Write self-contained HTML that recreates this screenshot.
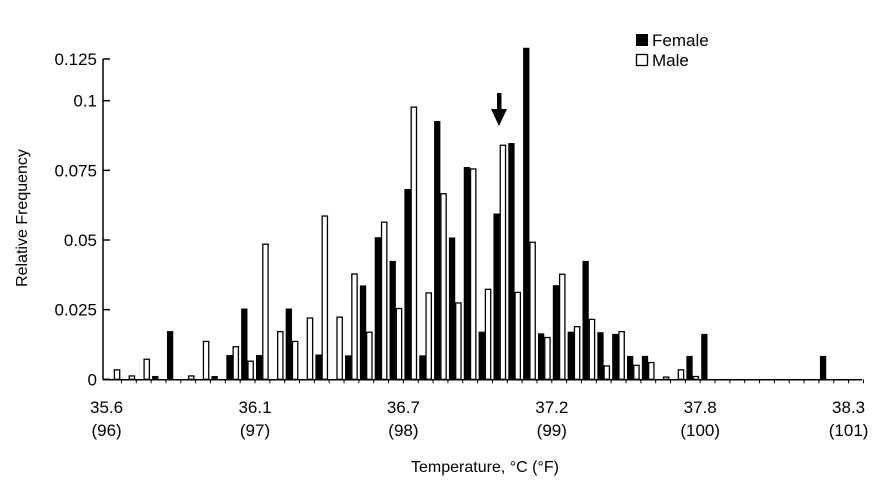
<!DOCTYPE html>
<html><head><meta charset="utf-8"><style>
body{margin:0;background:#fff;}
svg{display:block;font-family:"Liberation Sans",Arial,sans-serif;}
</style></head><body>
<svg id="chart" width="895" height="487" viewBox="0 0 895 487" xmlns="http://www.w3.org/2000/svg">
<g id="bars"></g>
<g id="axes"></g>
<g>
<rect x="636" y="34" width="12" height="12" fill="#000"/>
<text x="652" y="46" font-size="17">Female</text>
<rect x="636.5" y="54.5" width="11" height="11" fill="#fff" stroke="#000" stroke-width="1.3"/>
<text x="652" y="66" font-size="17">Male</text>
</g>
<g>
<rect x="497" y="93" width="4.5" height="16" fill="#000"/>
<polygon points="491,109 507,109 499,126" fill="#000"/>
</g>
<text transform="translate(27,218) rotate(-90)" text-anchor="middle" font-size="16">Relative Frequency</text>
<text x="485" y="472" text-anchor="middle" font-size="16">Temperature, °C (°F)</text>
</svg>
<script>
const female=[0,0,0,0.0012,0.0173,0,0,0.0012,0.0087,0.0254,0.0087,0,0.0254,0,0.0089,0,0.0086,0.0337,0.051,0.0425,0.0683,0.0086,0.0927,0.0509,0.0762,0.0171,0.0595,0.0848,0.119,0.0165,0.0338,0.0171,0.0425,0.0169,0.0163,0.0084,0.0084,0,0,0.0084,0.0163,0,0,0,0,0,0,0,0.0084,0,0];
const male=[0.0034,0.0012,0.0072,0,0,0.0012,0.0136,0,0.0117,0.0065,0.0485,0.0171,0.0136,0.022,0.0586,0.0223,0.0378,0.0169,0.0564,0.0254,0.0977,0.031,0.0666,0.0274,0.0755,0.0323,0.084,0.0312,0.0492,0.015,0.0377,0.0189,0.0215,0.0048,0.0171,0.005,0.006,0.0008,0.0034,0.001,0,0,0,0,0,0,0,0,0,0,0];
const yTicks=[0,0.025,0.05,0.075,0.1,0.125];
const yTickLabels=["0","0.025","0.05","0.075","0.1","0.125"];
const xTicksF=[96,97,98,99,100,101];
const xTickC=["35.6","36.1","36.7","37.2","37.8","38.3"];
const xTickF=["(96)","(97)","(98)","(99)","(100)","(101)"];

const NS="http://www.w3.org/2000/svg";
const X0=106.6, BW=14.84, Y0=379.3, YS=2786, AXTOP=59, AXL=103, AXR=862;
const xBin=i=>X0+BW*i;
const xF=f=>X0+(f-96)*10*BW;
const yB=v=>Y0-v*YS;
const yV=v=>Math.max(AXTOP,Y0-v*YS);
function mk(tag,attrs,parent){const e=document.createElementNS(NS,tag);for(const k in attrs)e.setAttribute(k,attrs[k]);parent.appendChild(e);return e;}
const bars=document.getElementById('bars'), axes=document.getElementById('axes');
female.forEach((v,i)=>{ if(v<=0)return;
  const r=mk('rect',{x:xBin(i)+1,y:yB(v),width:6.3,height:Y0-yB(v),fill:'#000'},bars);
  
  
});
male.forEach((v,i)=>{ if(v<=0)return;
  const r=mk('rect',{x:xBin(i)+7.8,y:yB(v),width:5.3,height:Y0-yB(v),fill:'#fff',stroke:'#000','stroke-width':1.3},bars);
  
  
});
const ya=mk('line',{x1:AXL,y1:AXTOP,x2:AXL,y2:Y0+0.5,stroke:'#000','stroke-width':1.5},axes);


const xa=mk('line',{x1:AXL,y1:Y0+0.5,x2:AXR,y2:Y0+0.5,stroke:'#000','stroke-width':1.5},axes);


yTicks.forEach((t,i)=>{const y=yV(t);
  const l=mk('line',{x1:AXL,y1:y,x2:AXL+7,y2:y,stroke:'#000','stroke-width':1.5},axes);
  
  
  const tx=mk('text',{x:AXL-6,y:y+6,'text-anchor':'end','font-size':17},axes);
  tx.textContent=yTickLabels[i];
  
  
});
for(let i=1;i<=51;i++){const x=xBin(i);
  const l=mk('line',{x1:x,y1:Y0,x2:x,y2:Y0+4,stroke:'#000','stroke-width':1},axes);
  
  
}
xTicksF.forEach((f,i)=>{const x=xF(f);
  const a=mk('text',{x:x,y:413,'text-anchor':'middle','font-size':17},axes);
  a.textContent=xTickC[i];
  
  
  const b=mk('text',{x:x,y:436,'text-anchor':'middle','font-size':17},axes);
  b.textContent=xTickF[i];
  
  
});
</script>
</body></html>
